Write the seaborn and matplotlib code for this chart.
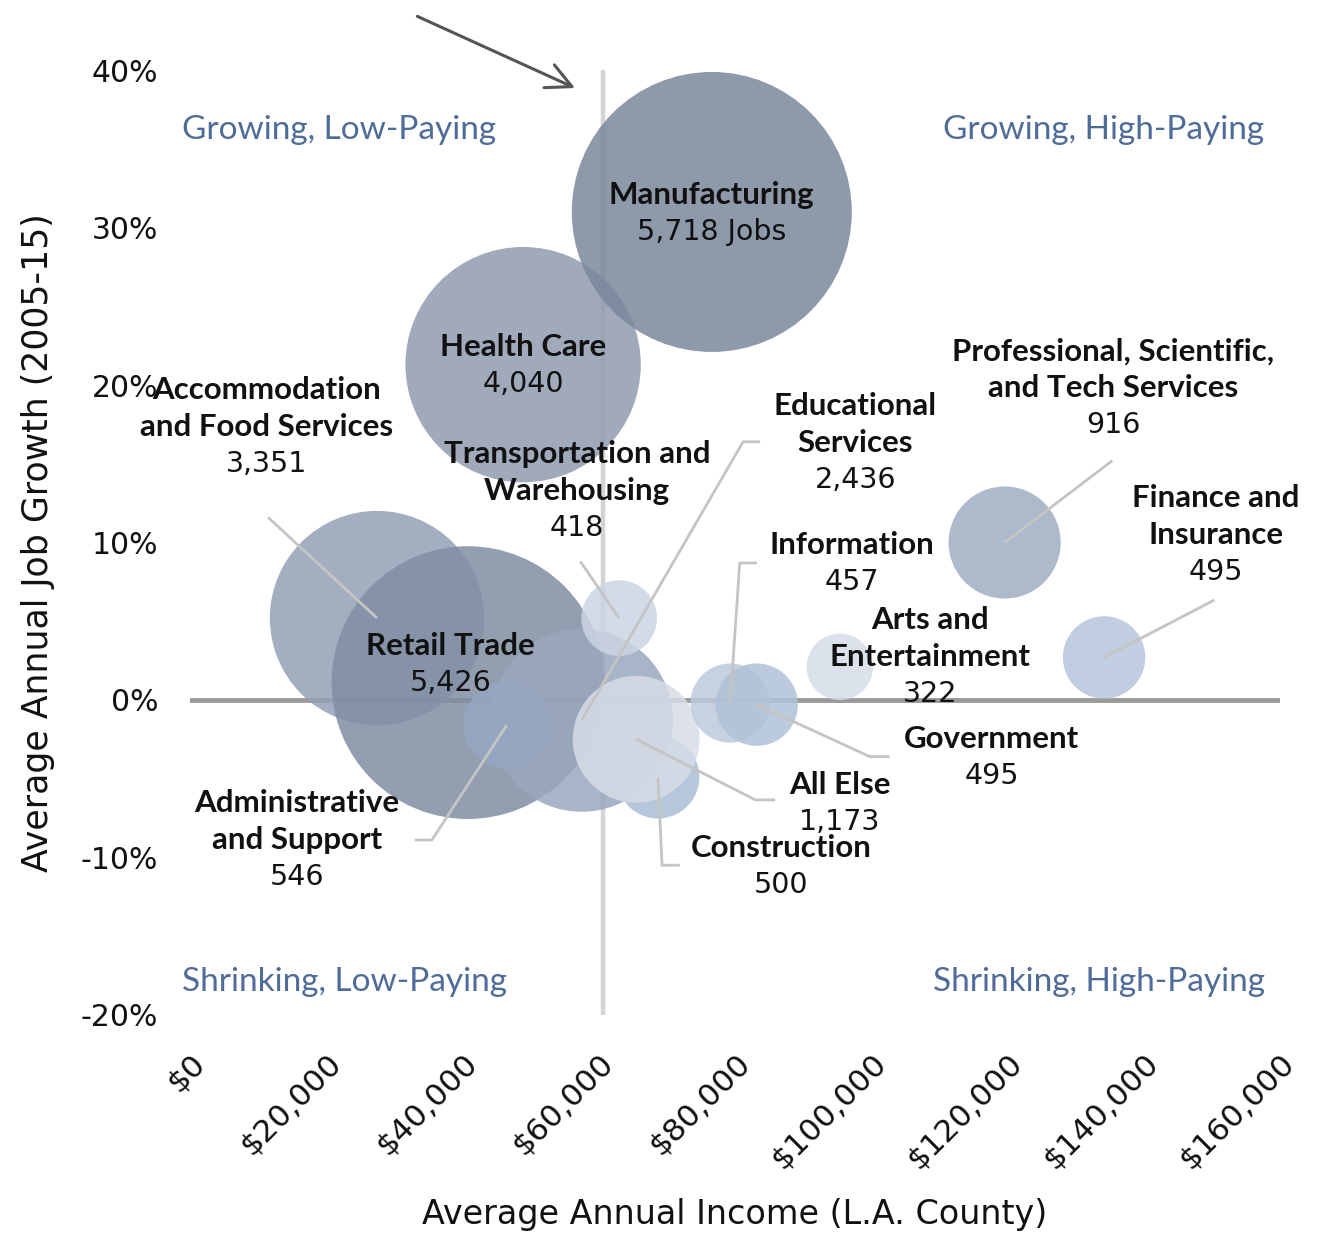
import numpy as np
import pandas as pd
import matplotlib
matplotlib.use("Agg")
import matplotlib.pyplot as plt
import matplotlib.colors as mcolors
from matplotlib.ticker import FuncFormatter
import seaborn as sns

# ---------------- data ----------------
industries = ["Accommodation and Food Services", "Retail Trade", "Educational Services",
              "Administrative and Support", "Construction", "All Else",
              "Transportation and Warehousing", "Health Care", "Manufacturing",
              "Information", "Government", "Arts and Entertainment",
              "Professional, Scientific, and Tech Services", "Finance and Insurance"]
income = [27450, 40800, 57500, 46500, 68700, 65500, 63000, 48900, 76600,
          79300, 83200, 95400, 119600, 134200]
growth = [5.2, 1.1, -1.3, -1.6, -4.9, -2.5, 5.2, 21.3, 31.0,
          -0.2, -0.3, 2.1, 10.0, 2.7]
jobs = [3351, 5426, 2436, 546, 500, 1173, 418, 4040, 5718,
        457, 495, 322, 916, 495]

label_names = ["Accommodation\nand Food Services", "Retail Trade", "Educational\nServices",
               "Administrative\nand Support", "Construction", "All Else",
               "Transportation and\nWarehousing", "Health Care", "Manufacturing",
               "Information", "Government", "Arts and\nEntertainment",
               "Professional, Scientific,\nand Tech Services", "Finance and\nInsurance"]
label_numbers = ["3,351", "5,426", "2,436", "546", "500", "1,173", "418", "4,040",
                 "5,718 Jobs", "457", "495", "322", "916", "495"]

x_ticks = [0, 20000, 40000, 60000, 80000, 100000, 120000, 140000, 160000]
y_ticks = [-20, -10, 0, 10, 20, 30, 40]
avg_income = 60600

quadrants = ["Growing, Low-Paying", "Growing, High-Paying",
             "Shrinking, Low-Paying", "Shrinking, High-Paying"]

# ---------------- styles / layout ----------------
apparent = ["#a3aec0", "#939fb1", "#a8b4c8", "#a7b4cb", "#b7c6db", "#dde2eb",
            "#d3dbe7", "#a0aabb", "#8e99aa", "#c6d1e2", "#bccadd", "#dbe2ec",
            "#adbacd", "#c2cee1"]
ALPHA = 0.85

def base_color(hexc, a=ALPHA):
    c = np.array(mcolors.to_rgb(hexc))
    b = (c - (1 - a)) / a
    return tuple(np.clip(b, 0, 1))

palette = {n: base_color(c) for n, c in zip(industries, apparent)}

# label anchor (x, y of first line) in data coords
label_pos = [(11300, 19.7), (38200, 3.43), (97700, 18.65), (15700, -6.55),
             (86750, -9.4), (95400, -5.4), (56800, 15.6), (48900, 22.4), (76600, 32.1),
             (97200, 9.84), (117700, -2.48), (108600, 5.08), (135500, 22.15), (150600, 12.83)]
# leader waypoints (label side) in data coords, then to bubble center
leaders = {0: [(11450, 11.6)],
           2: [(83700, 16.4), (81200, 16.4)],
           3: [(33000, -8.9), (35500, -8.9)],
           4: [(71900, -10.5), (69300, -10.5)],
           5: [(85900, -6.35), (83000, -6.35)],
           6: [(57300, 8.8)],
           9: [(83200, 8.7), (80700, 8.7)],
           10: [(102700, -3.6), (99800, -3.6)],
           12: [(135400, 15.2)],
           13: [(150400, 6.35)]}

BOLD_FONT = ["Lato", "DejaVu Sans"]
REG_FONT = ["DejaVu Sans"]
QUAD_FONT = ["Lato", "DejaVu Sans"]
sns.set_theme(style="white")
plt.rcParams["font.family"] = ["DejaVu Sans"]

DPI = 100
fig = plt.figure(figsize=(13.29, 12.33), dpi=DPI)
ax = fig.add_axes([0.143, 0.177, 0.820, 0.766])

df = pd.DataFrame({"industry": industries, "income": income, "growth": growth, "jobs": jobs})

r_max_px = 140
s_max = (2 * r_max_px * 72 / DPI) ** 2

ax.axvline(avg_income, color="#d4d4d4", lw=3.2, zorder=1)
ax.axhline(0, color="#9a9a9a", lw=3.5, zorder=1)

sns.scatterplot(data=df, x="income", y="growth", hue="industry", palette=palette,
                size="jobs", sizes=(0, s_max), size_norm=(0, max(jobs)),
                alpha=ALPHA, edgecolor="none", linewidth=0, legend=False, ax=ax, zorder=2)

ax.set_xlim(0, 160000)
ax.set_ylim(-20, 40)
ax.set_xticks(x_ticks)
ax.set_yticks(y_ticks)
ax.xaxis.set_major_formatter(FuncFormatter(lambda v, p: f"${v:,.0f}"))
ax.yaxis.set_major_formatter(FuncFormatter(lambda v, p: f"{v:.0f}%"))
for s in ax.spines.values():
    s.set_visible(False)
ax.tick_params(axis="both", length=0, colors="#111111")
ax.tick_params(axis="y", pad=23, labelsize=21.5)
ax.tick_params(axis="x", pad=24, labelsize=22.5)
for lbl in ax.get_xticklabels():
    lbl.set_rotation(45)
    lbl.set_rotation_mode("anchor")
    lbl.set_ha("right")
    lbl.set_va("top")

ax.set_xlabel("Average Annual Income (L.A. County)", fontsize=24, color="#111111")
ax.set_ylabel("Average Annual Job Growth (2005-15)", fontsize=25, color="#111111")
ax.xaxis.set_label_coords(0.5, -0.194)
ax.yaxis.set_label_coords(-0.124, 0.5)

# leader lines
for i, pts in leaders.items():
    xs = [p[0] for p in pts] + [income[i]]
    ys = [p[1] for p in pts] + [growth[i]]
    ax.plot(xs, ys, color="#c4c4c4", lw=2, zorder=3, solid_capstyle="butt")

# labels
LINE_PT = 37 * 72 / DPI
for i in range(len(industries)):
    lx, ly = label_pos[i]
    lines = label_names[i].split("\n")
    for k, t in enumerate(lines):
        ax.annotate(t, (lx, ly), xytext=(0, -k * LINE_PT), textcoords="offset points",
                    ha="center", va="center", fontsize=22.5, fontweight="bold",
                    family=BOLD_FONT, color="#111111", zorder=5, annotation_clip=False)
    ax.annotate(label_numbers[i], (lx, ly), xytext=(0, -len(lines) * LINE_PT),
                textcoords="offset points", ha="center", va="center", fontsize=20.5,
                family=REG_FONT, color="#111111", zorder=5, annotation_clip=False)

# quadrant labels
qcol = "#4f6c99"
qfs = 24
ax.text(-0.007, 0.9365, quadrants[0], transform=ax.transAxes, fontsize=qfs, color=qcol,
        ha="left", va="center", family=QUAD_FONT)
ax.text(0.986, 0.9365, quadrants[1], transform=ax.transAxes, fontsize=qfs, color=qcol,
        ha="right", va="center", family=QUAD_FONT)
ax.text(-0.007, 0.035, quadrants[2], transform=ax.transAxes, fontsize=qfs, color=qcol,
        ha="left", va="center", family=QUAD_FONT)
ax.text(0.986, 0.035, quadrants[3], transform=ax.transAxes, fontsize=qfs, color=qcol,
        ha="right", va="center", family=QUAD_FONT)

# arrow
ax.annotate("", xy=(56900, 38.8), xytext=(33000, 43.5),
            arrowprops=dict(arrowstyle="->", color="#555555", lw=2.2, mutation_scale=45),
            annotation_clip=False)

fig.savefig("out.png", dpi=DPI)
